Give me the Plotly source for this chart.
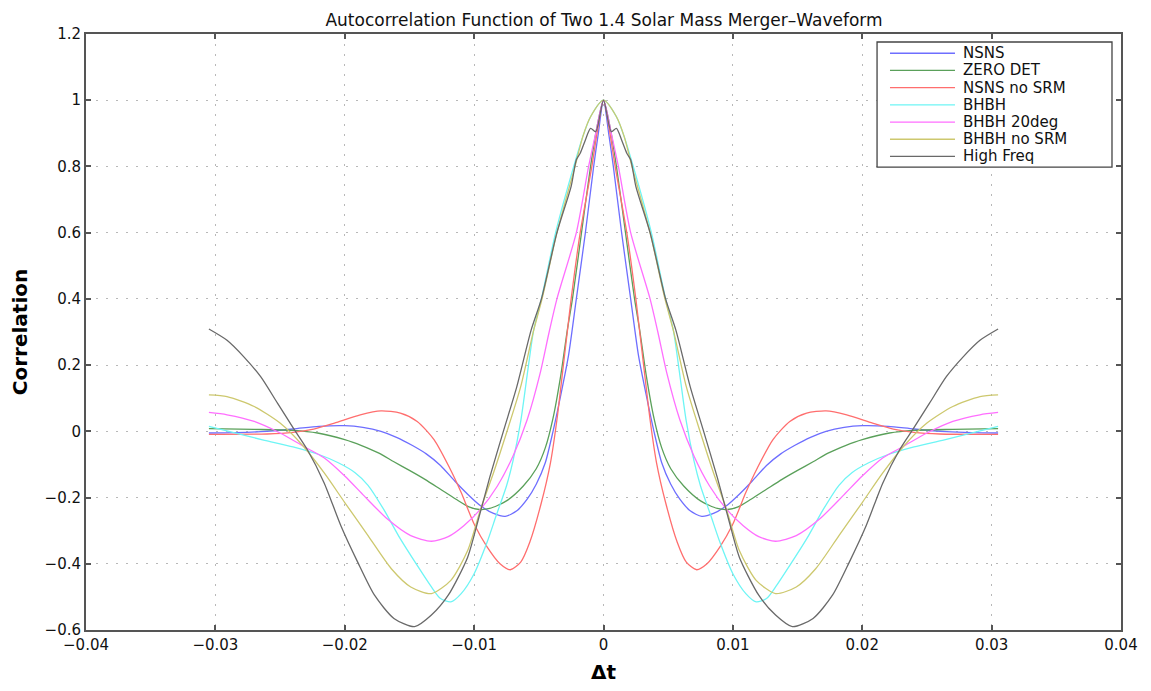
import plotly.graph_objects as go

# positive-half lag values (autocorrelation is symmetric, negative half mirrors these)
nsns_x = [0, 0.0004, 0.00076, 0.0014, 0.0021, 0.0027, 0.0033, 0.0039, 0.0045, 0.0052, 0.0059, 0.0067,
          0.0076, 0.0085, 0.0095, 0.0105, 0.0115, 0.0126, 0.0137, 0.0148, 0.0160, 0.0172, 0.0186, 0.0200,
          0.0220, 0.0240, 0.0265, 0.0285, 0.0305]
nsns_y = [1, 0.9, 0.8, 0.6, 0.4, 0.23, 0.11, 0.0, -0.095, -0.16, -0.205, -0.24,
          -0.257, -0.248, -0.225, -0.19, -0.15, -0.103, -0.068, -0.042, -0.018, 0.0, 0.012, 0.017,
          0.015, 0.007, -0.001, -0.004, -0.005]

zero_x = [0, 0.0005, 0.001, 0.0017, 0.0024, 0.0028, 0.0033, 0.0039, 0.0045, 0.0052, 0.0062, 0.0075,
          0.0088, 0.0096, 0.0104, 0.0114, 0.0126, 0.0138, 0.0150, 0.0162, 0.0174, 0.0187, 0.0200,
          0.0221, 0.0240, 0.0270, 0.0305]
zero_y = [1, 0.92, 0.8, 0.6, 0.4, 0.305, 0.17, 0.04, -0.05, -0.113, -0.165, -0.21,
          -0.233, -0.236, -0.228, -0.205, -0.175, -0.145, -0.118, -0.092, -0.065, -0.043, -0.025,
          -0.005, 0.003, 0.006, 0.008]

nosrm_x = [0, 0.0005, 0.0009, 0.0018, 0.0025, 0.0028, 0.0031, 0.0036, 0.0041, 0.0048, 0.0057, 0.0064,
           0.0072, 0.0080, 0.0090, 0.0100, 0.0110, 0.0119, 0.0131, 0.0144, 0.0157, 0.0172, 0.0188,
           0.0208, 0.0224, 0.0240, 0.0260, 0.0305]
nosrm_y = [1, 0.9, 0.8, 0.6, 0.4, 0.3, 0.2, 0.035, -0.095, -0.215, -0.335, -0.395,
           -0.418, -0.4, -0.349, -0.28, -0.185, -0.11, -0.025, 0.03, 0.055, 0.062, 0.05,
           0.025, 0.007, -0.003, -0.008, -0.009]

bhbh_x = [0, 0.001, 0.0016, 0.0023, 0.0037, 0.0048, 0.0054, 0.0059, 0.0064, 0.0070, 0.0075, 0.0083,
          0.0090, 0.0100, 0.0110, 0.0118, 0.0126, 0.0133, 0.0144, 0.0157, 0.0170, 0.0182, 0.0192,
          0.0205, 0.0220, 0.0240, 0.0262, 0.0285, 0.0305]
bhbh_y = [1, 0.95, 0.89, 0.8, 0.6, 0.4, 0.305, 0.17, 0.03, -0.09, -0.165, -0.255,
          -0.335, -0.43, -0.49, -0.515, -0.505, -0.47, -0.405, -0.325, -0.235, -0.163, -0.125,
          -0.095, -0.07, -0.047, -0.027, -0.005, 0.015]

deg20_x = [0, 0.0006, 0.00115, 0.0021, 0.0036, 0.0042, 0.0049, 0.0059, 0.0070, 0.0082, 0.0095, 0.0108,
           0.0120, 0.0133, 0.0149, 0.0167, 0.0185, 0.0200, 0.0216, 0.0232, 0.0250, 0.0270, 0.0291, 0.0305]
deg20_y = [1, 0.9, 0.8, 0.6, 0.4, 0.3, 0.175, 0.035, -0.075, -0.165, -0.235, -0.285,
           -0.318, -0.332, -0.315, -0.265, -0.195, -0.135, -0.08, -0.045, -0.005, 0.03, 0.05, 0.057]

bhns_x = [0, 0.001, 0.0016, 0.0022, 0.0036, 0.00475, 0.0054, 0.0064, 0.0075, 0.0085, 0.0095, 0.0105,
          0.0118, 0.0133, 0.0149, 0.0164, 0.0182, 0.0200, 0.0216, 0.0232, 0.0250, 0.0270, 0.0291, 0.0305]
bhns_y = [1, 0.95, 0.89, 0.8, 0.6, 0.4, 0.305, 0.135, -0.005, -0.125, -0.235, -0.36,
          -0.45, -0.49, -0.47, -0.415, -0.315, -0.215, -0.125, -0.045, 0.025, 0.075, 0.105, 0.11]

hf_x = [0, 0.0006, 0.001, 0.0014, 0.0018, 0.0021, 0.0025, 0.0036, 0.0048, 0.0056, 0.0067, 0.0077, 0.0088,
        0.0097, 0.0105, 0.0120, 0.0133, 0.0146, 0.0162, 0.0177, 0.0190, 0.0203, 0.0216, 0.0229,
        0.0239, 0.0252, 0.0265, 0.0278, 0.0291, 0.0305]
hf_y = [1, 0.905, 0.915, 0.88, 0.84, 0.82, 0.74, 0.6, 0.4, 0.305, 0.135, 0.005, -0.14,
        -0.27, -0.38, -0.495, -0.555, -0.59, -0.565, -0.495, -0.395, -0.285, -0.155, -0.055,
        0.005, 0.085, 0.165, 0.225, 0.275, 0.309]

series_names = ["NSNS", "ZERO DET", "NSNS no SRM", "BHBH", "BHBH 20deg", "BHBH no SRM", "High Freq"]
series_colors = ["rgb(110,110,255)", "rgb(90,160,90)", "rgb(255,110,110)", "rgb(110,245,245)",
                 "rgb(255,110,255)", "rgb(205,200,110)", "rgb(105,105,105)"]
series_data = [(nsns_x, nsns_y), (zero_x, zero_y), (nosrm_x, nosrm_y), (bhbh_x, bhbh_y),
               (deg20_x, deg20_y), (bhns_x, bhns_y), (hf_x, hf_y)]

x_ticks = [-0.04, -0.03, -0.02, -0.01, 0, 0.01, 0.02, 0.03, 0.04]
y_ticks = [-0.6, -0.4, -0.2, 0, 0.2, 0.4, 0.6, 0.8, 1, 1.2]

FONT = "DejaVu Sans, Liberation Sans, Arial"

fig = go.Figure()
for name, (hx, hy), col in zip(series_names, series_data, series_colors):
    xs = [-v for v in hx[::-1]] + hx[1:]
    ys = hy[::-1] + hy[1:]
    fig.add_trace(go.Scatter(x=xs, y=ys, mode="lines", name=name, showlegend=False,
                             line=dict(color=col, width=1.3, shape="spline", smoothing=0.7)))

# legend box (MATLAB style) drawn in plot-area paper coordinates
L_X0, L_X1, L_Y0, L_Y1 = 0.7643, 0.9913, 0.7768, 0.9866
ROW0, ROW_STEP = 0.9677, 0.02886
shapes = [dict(type="rect", xref="paper", yref="paper", x0=L_X0, x1=L_X1, y0=L_Y0, y1=L_Y1,
               line=dict(color="#444444", width=1.3), fillcolor="white", layer="above")]
annotations = []
for i, (name, col) in enumerate(zip(series_names, series_colors)):
    yy = ROW0 - i * ROW_STEP
    shapes.append(dict(type="line", xref="paper", yref="paper", x0=0.7768, x1=0.8396, y0=yy, y1=yy,
                       line=dict(color=col, width=1.3), layer="above"))
    annotations.append(dict(text=name, xref="paper", yref="paper", x=0.8454, y=yy, xanchor="left",
                            yanchor="middle", showarrow=False,
                            font=dict(family=FONT, size=15, color="#111")))

axis_common = dict(showline=True, linecolor="#555555", linewidth=2, mirror="ticks",
                   ticks="inside", ticklen=5, tickcolor="#555555", tickwidth=1.5,
                   showgrid=True, gridcolor="#b8b8b8", griddash="2px,8px", gridwidth=1,
                   zeroline=False, automargin=False,
                   tickfont=dict(family=FONT, size=15, color="#111"))

fig.update_layout(
    width=1143, height=683,
    margin=dict(l=78, r=30, t=26, b=61),
    paper_bgcolor="white", plot_bgcolor="white",
    title=dict(text="Autocorrelation Function of Two 1.4 Solar Mass Merger\u2013Waveform",
               x=(604 - 8) / 1143, xanchor="center", y=0.991, yanchor="top",
               font=dict(family=FONT, size=17, color="#111")),
    xaxis=dict(range=[-0.04, 0.04], tickvals=x_ticks, **axis_common,
               title=dict(text="<b>\u0394t</b>", font=dict(family=FONT, size=20, color="black"),
                          standoff=12)),
    yaxis=dict(range=[-0.6, 1.2], tickvals=y_ticks, **axis_common,
               title=dict(text="<b>Correlation</b>", font=dict(family=FONT, size=20, color="black"),
                          standoff=12)),
    shapes=shapes,
    annotations=annotations,
    showlegend=False,
)

fig.write_html("out.html")
